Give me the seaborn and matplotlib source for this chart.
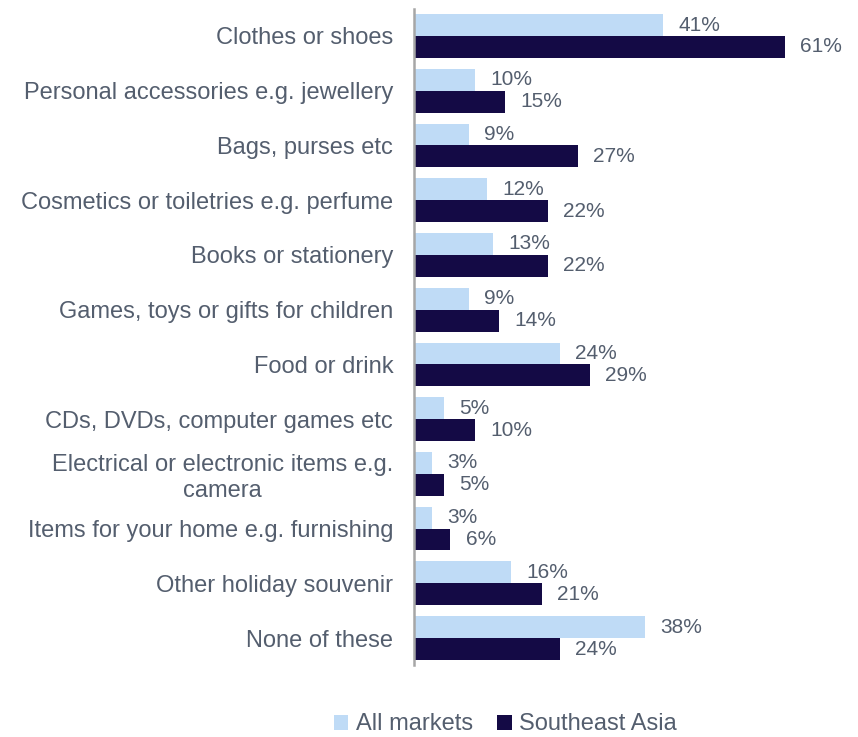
import matplotlib
matplotlib.use("Agg")
import matplotlib.pyplot as plt
import seaborn as sns
import pandas as pd
from matplotlib.patches import Patch

categories = [
    "Clothes or shoes",
    "Personal accessories e.g. jewellery",
    "Bags, purses etc",
    "Cosmetics or toiletries e.g. perfume",
    "Books or stationery",
    "Games, toys or gifts for children",
    "Food or drink",
    "CDs, DVDs, computer games etc",
    "Electrical or electronic items e.g.\ncamera",
    "Items for your home e.g. furnishing",
    "Other holiday souvenir",
    "None of these",
]
all_markets = [41, 10, 9, 12, 13, 9, 24, 5, 3, 3, 16, 38]
southeast_asia = [61, 15, 27, 22, 22, 14, 29, 10, 5, 6, 21, 24]
series_names = ["All markets", "Southeast Asia"]
colors = ["#BFDBF6", "#140A45"]

df = pd.DataFrame({
    "category": categories * 2,
    "value": all_markets + southeast_asia,
    "series": [series_names[0]] * len(categories) + [series_names[1]] * len(categories),
})

sns.set_theme(style="white")
plt.rcParams["font.family"] = ["Liberation Sans", "DejaVu Sans"]
text_color = "#545E6E"

fig = plt.figure(figsize=(8.58, 7.37), dpi=100)
ax = fig.add_axes([0.4825, 0.0971, 0.49, 0.8912])

sns.barplot(data=df, y="category", x="value", hue="series", order=categories,
            hue_order=series_names, palette=colors, orient="h", width=0.8,
            saturation=1, linewidth=0, ax=ax, legend=False)

for container in ax.containers:
    ax.bar_label(container, labels=[f"{v:.0f}%" for v in container.datavalues],
                 padding=11, fontsize=15, color=text_color)

ax.set_xlim(0, 69.2)
ax.set_ylim(11.5, -0.5)
ax.set_xlabel("")
ax.set_ylabel("")
ax.set_xticks([])
for s in ["top", "right", "bottom"]:
    ax.spines[s].set_visible(False)
ax.spines["left"].set_color("#A6A6A6")
ax.spines["left"].set_linewidth(1.8)
ax.tick_params(axis="y", length=0, pad=15, labelsize=17, labelcolor=text_color)
for lbl in ax.get_yticklabels():
    lbl.set_multialignment("center")

handles = [Patch(facecolor=c, edgecolor="none") for c in colors]
fig.legend(handles, series_names, loc="center", bbox_to_anchor=(0.589, 0.017),
           ncol=2, frameon=False, fontsize=17, labelcolor=text_color,
           handlelength=0.6, handleheight=0.6, handletextpad=0.3, columnspacing=1.05)

fig.savefig("out.png", dpi=100)
